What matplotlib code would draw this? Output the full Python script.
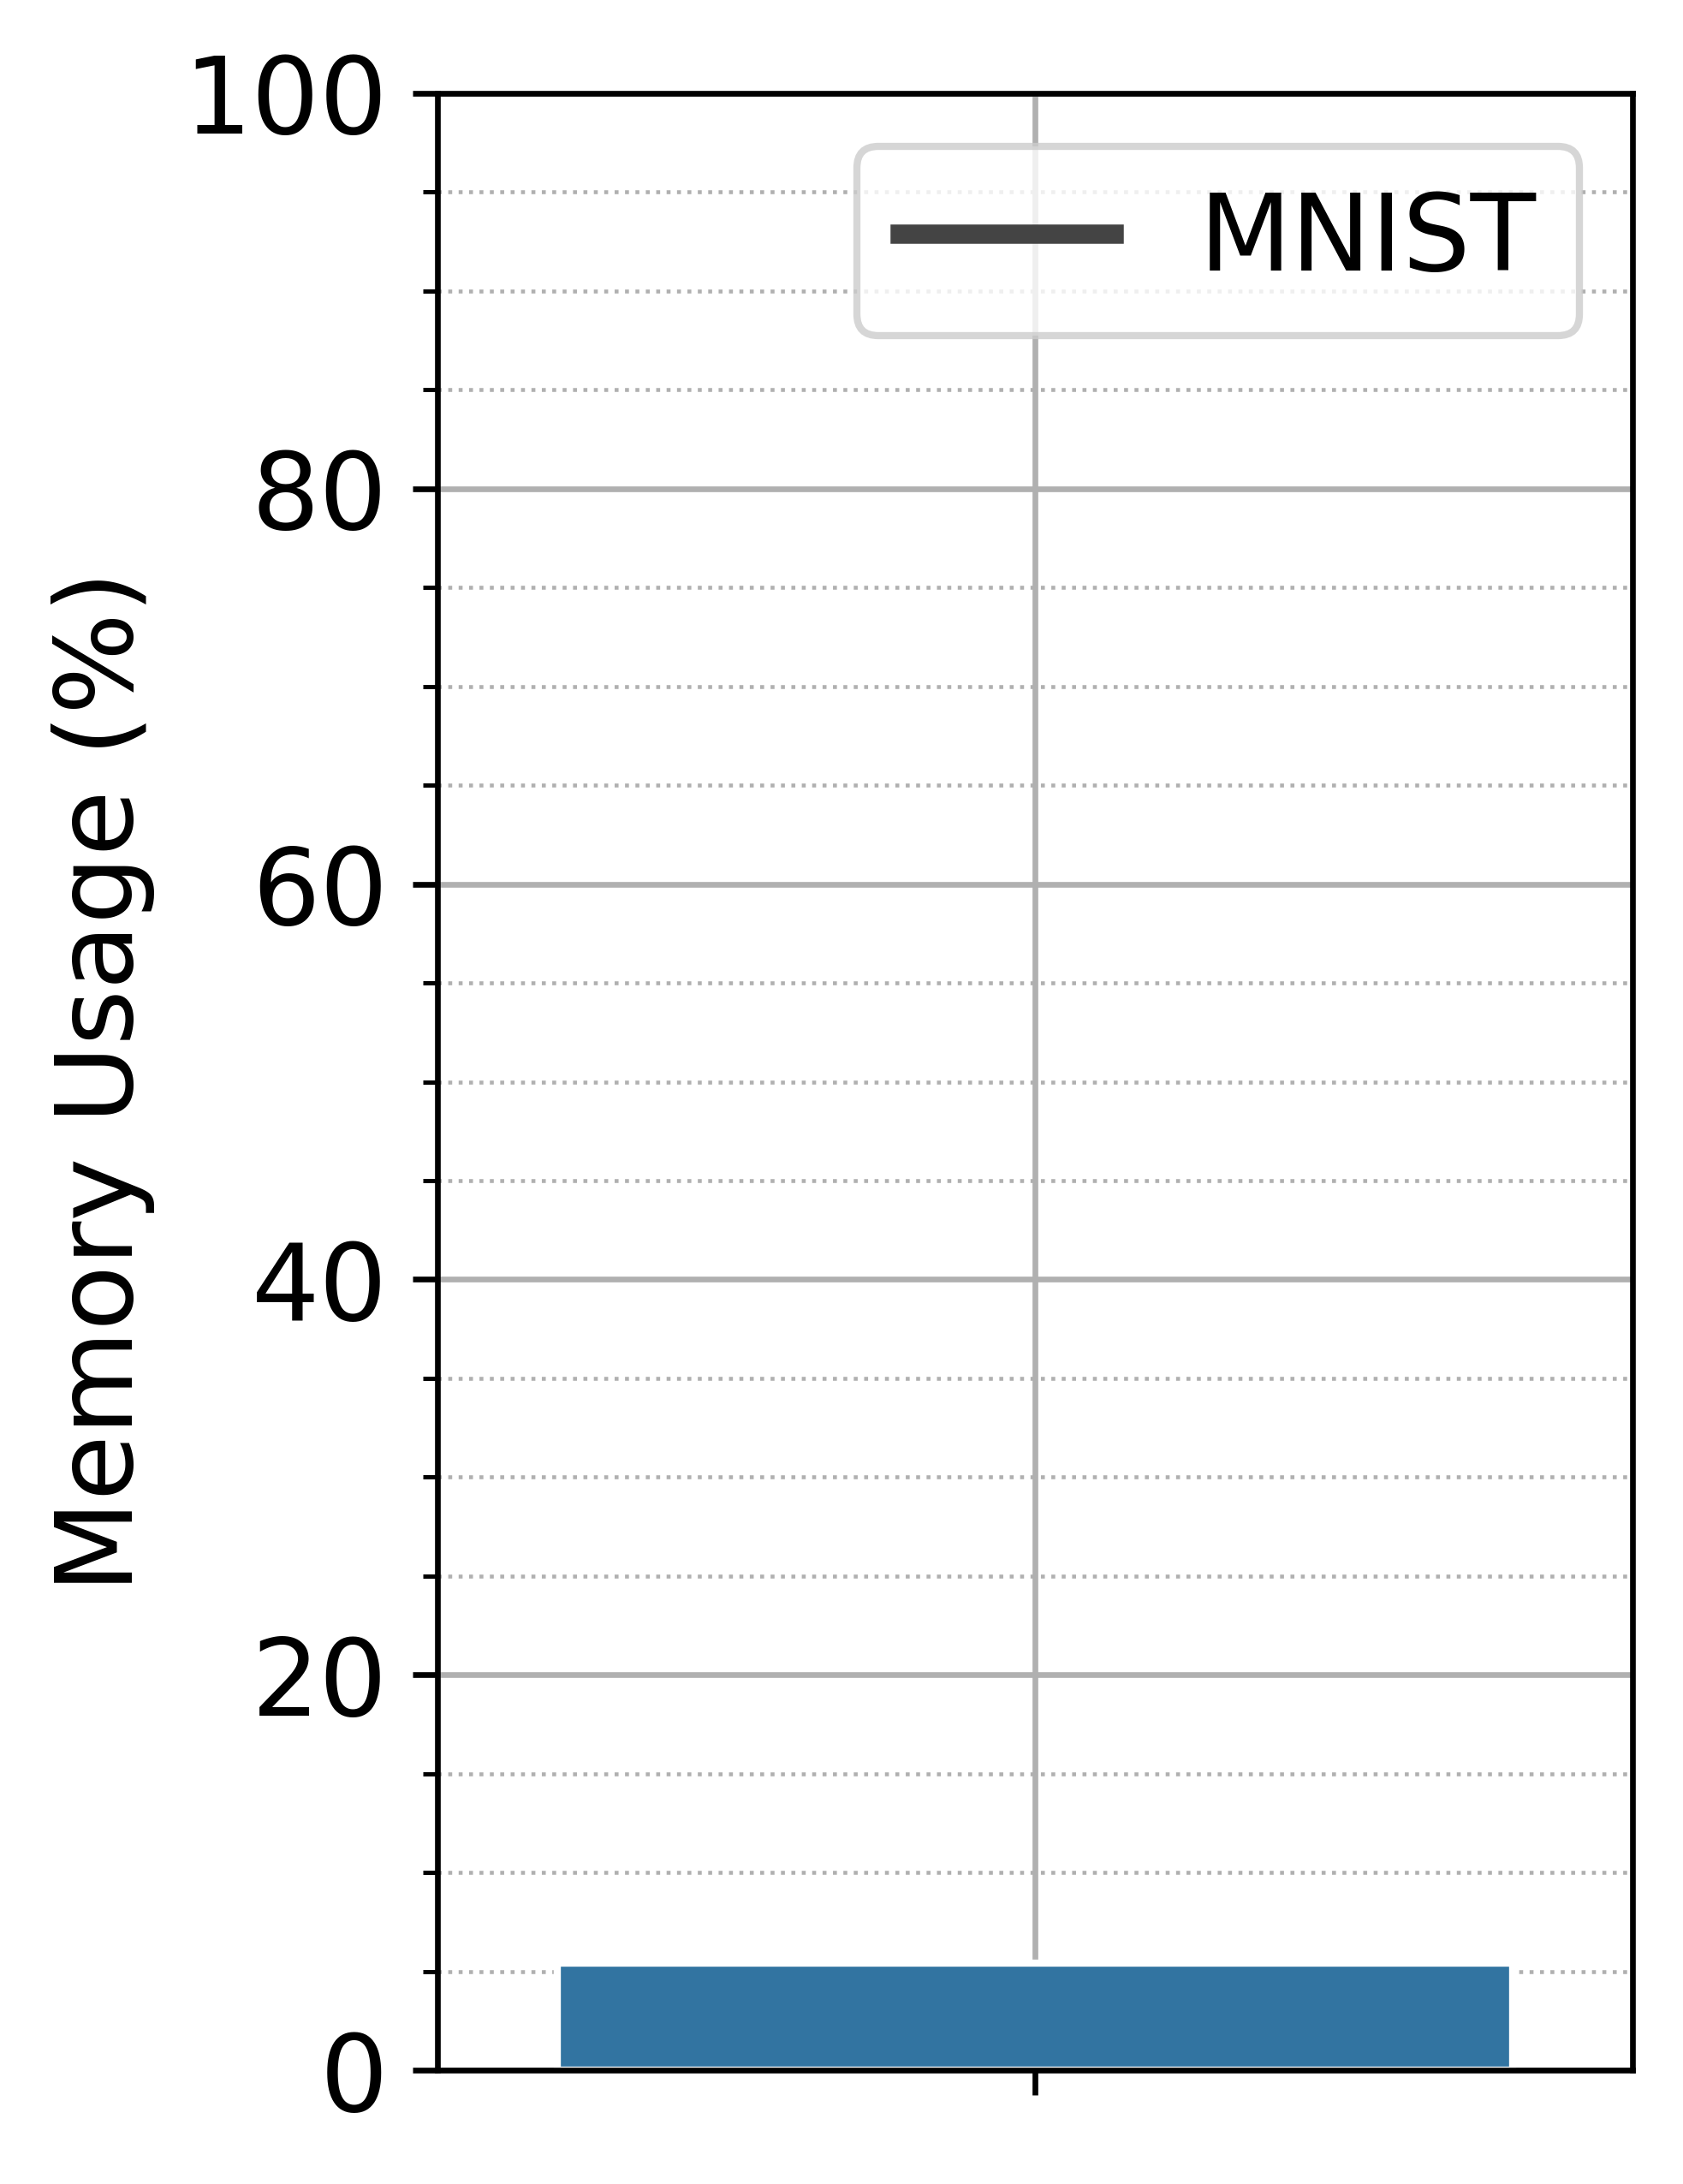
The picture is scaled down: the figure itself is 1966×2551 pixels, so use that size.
import numpy as np
import matplotlib
matplotlib.use("Agg")
import matplotlib.pyplot as plt
from matplotlib.ticker import MultipleLocator
from matplotlib.lines import Line2D

# data
categories = [""]
memory_usage = [5.4]
legend_labels = ["MNIST"]

bar_color = "#3274a1"
grid_color = "#b0b0b0"

fig = plt.figure(figsize=(1966/600, 2551/600), dpi=600)
ax = fig.add_axes([0.260, 0.0521, 0.710, 0.9052])

x = np.arange(len(categories))
ax.bar(x, memory_usage, width=0.8, color=bar_color, edgecolor="white",
       linewidth=1.0, zorder=2)

ax.set_xlim(-0.5, 0.5)
ax.set_ylim(0, 100)
ax.set_xticks(x)
ax.set_xticklabels(categories)
ax.yaxis.set_major_locator(MultipleLocator(20))
ax.yaxis.set_minor_locator(MultipleLocator(5))
ax.tick_params(axis="both", which="major", labelsize=15)

ax.set_axisbelow(True)
ax.grid(True, which="major", color=grid_color, linewidth=0.8, linestyle="-")
ax.grid(True, which="minor", axis="y", color=grid_color, linewidth=0.55, linestyle=":")

ax.set_ylabel("Memory Usage (%)", fontsize=15)

# legend (line handle)
handles = [Line2D([0], [0], color="#444444", linewidth=2.7)]
ax.legend(handles, legend_labels, loc="upper right", fontsize=15)

fig.savefig("out.png", dpi=600)
